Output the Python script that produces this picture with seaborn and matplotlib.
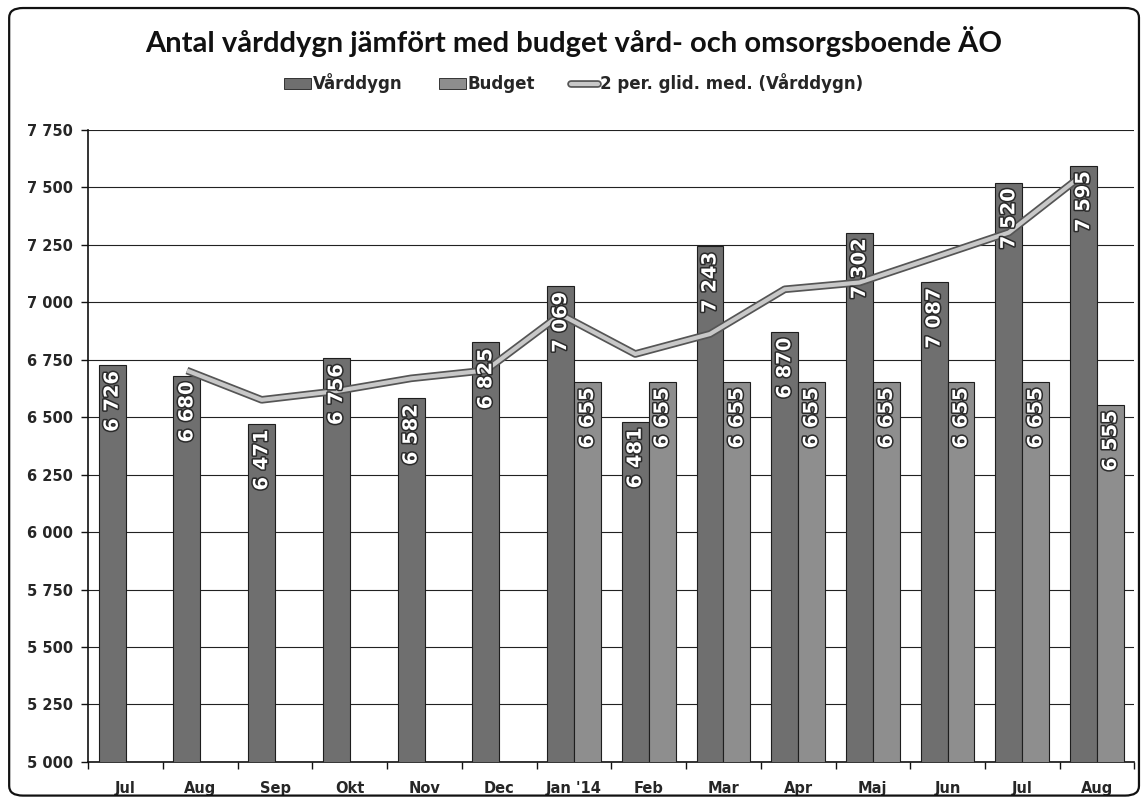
import matplotlib
matplotlib.use("Agg")
import matplotlib.pyplot as plt
import matplotlib.patheffects as pe
from matplotlib.patches import FancyBboxPatch, Patch
from matplotlib.lines import Line2D
from matplotlib.ticker import FixedLocator, FuncFormatter
import numpy as np
import pandas as pd
import seaborn as sns

# Monthly data, Jul 2013 - Aug 2014
periods = ["2013-07", "2013-08", "2013-09", "2013-10", "2013-11", "2013-12",
           "2014-01", "2014-02", "2014-03", "2014-04", "2014-05", "2014-06",
           "2014-07", "2014-08"]
month_labels = ["Jul", "Aug", "Sep", "Okt", "Nov", "Dec", "Jan '14", "Feb",
                "Mar", "Apr", "Maj", "Jun", "Jul", "Aug"]
varddygn = [6726, 6680, 6471, 6756, 6582, 6825, 7069, 6481, 7243, 6870,
            7302, 7087, 7520, 7595]
budget = [np.nan, np.nan, np.nan, np.nan, np.nan, np.nan, 6655, 6655, 6655,
          6655, 6655, 6655, 6655, 6555]

series_names = ["Vårddygn", "Budget"]
ma_name = "2 per. glid. med. (Vårddygn)"

df = pd.DataFrame({
    "period": periods * 2,
    "serie": [series_names[0]] * len(periods) + [series_names[1]] * len(periods),
    "value": varddygn + budget,
}).dropna()

# two-period moving average of Vårddygn
moving_avg = pd.Series(varddygn).rolling(2).mean()

sns.set_theme(style="white")
plt.rcParams["font.family"] = ["DejaVu Sans"]

fig = plt.figure(figsize=(11.47, 8.02), dpi=100)
ax = fig.add_axes([0.077, 0.05, 0.912, 0.788])

colors = {"Vårddygn": "#6f6f6f", "Budget": "#8e8e8e"}
group_width = 0.72
sns.barplot(data=df, x="period", y="value", hue="serie", order=periods,
            hue_order=series_names, palette=colors, width=group_width,
            dodge=True, gap=0, edgecolor="#1e1e1e", linewidth=0.8,
            legend=False, ax=ax, zorder=3)

fmt_space = lambda v: f"{v:,.0f}".replace(",", " ")

for container in ax.containers:
    texts = ax.bar_label(container, fmt=fmt_space, label_type="edge",
                         padding=-4, rotation=90, color="white",
                         fontsize=14, fontweight="bold", zorder=5)
    for t in texts:
        t.set_va("top")
        t.set_path_effects([pe.withStroke(linewidth=2.2, foreground="#2a2a2a")])

# moving average line through the Vårddygn bars
offset = group_width / 4
x_line = np.arange(len(periods)) - offset
line_effects = [pe.Stroke(linewidth=5.5, foreground="#555555"), pe.Normal()]
ax.plot(x_line, moving_avg.values, color="#c8c8c8", lw=3, zorder=4,
        solid_capstyle="butt", path_effects=line_effects)

ax.set_ylim(5000, 7750)
ax.set_xlim(-0.5, len(periods) - 0.5)
ax.yaxis.set_major_locator(FixedLocator(np.arange(5000, 7751, 250)))
ax.yaxis.set_major_formatter(FuncFormatter(lambda v, p: fmt_space(v)))
ax.set_xticks(range(len(periods)))
ax.set_xticklabels(month_labels)
ax.set_xlabel("")
ax.set_ylabel("")
ax.grid(axis="y", color="#222222", lw=0.8, zorder=0)
ax.grid(axis="x", visible=False)

for side in ["top", "right"]:
    ax.spines[side].set_visible(False)
for side in ["left", "bottom"]:
    ax.spines[side].set_color("#111111")
    ax.spines[side].set_linewidth(1.2)

ax.tick_params(axis="y", which="major", left=True, length=5, width=1,
               color="#111111", labelsize=10.5, pad=6)
ax.tick_params(axis="x", which="major", bottom=False, labelsize=10.5, pad=8)
ax.set_xticks(np.arange(-0.5, len(periods), 1), minor=True)
ax.tick_params(axis="x", which="minor", bottom=True, length=5, width=1,
               color="#111111")
for lbl in ax.get_xticklabels() + ax.get_yticklabels():
    lbl.set_fontweight("bold")

fig.text(0.5, 0.948, "Antal vårddygn jämfört med budget vård- och omsorgsboende ÄO",
         ha="center", va="center", fontsize=21, fontweight="bold",
         family="Lato", color="#111111")

handles = [Patch(facecolor=colors["Vårddygn"], edgecolor="#1e1e1e", lw=0.6),
           Patch(facecolor=colors["Budget"], edgecolor="#1e1e1e", lw=0.6),
           Line2D([0], [0], color="#c8c8c8", lw=3,
                  path_effects=line_effects)]
leg = fig.legend(handles, series_names + [ma_name], loc="center",
                 bbox_to_anchor=(0.5, 0.896), ncol=3, frameon=False,
                 handlelength=1.6, handletextpad=0.1, columnspacing=2.2,
                 prop={"weight": "bold", "size": 12})

border = FancyBboxPatch((0.008, 0.008), 0.985, 0.982,
                        boxstyle="round,pad=0,rounding_size=0.012",
                        transform=fig.transFigure, fill=False,
                        edgecolor="#111111", lw=1.6)
fig.patches.append(border)

fig.savefig("out.png", dpi=100)
